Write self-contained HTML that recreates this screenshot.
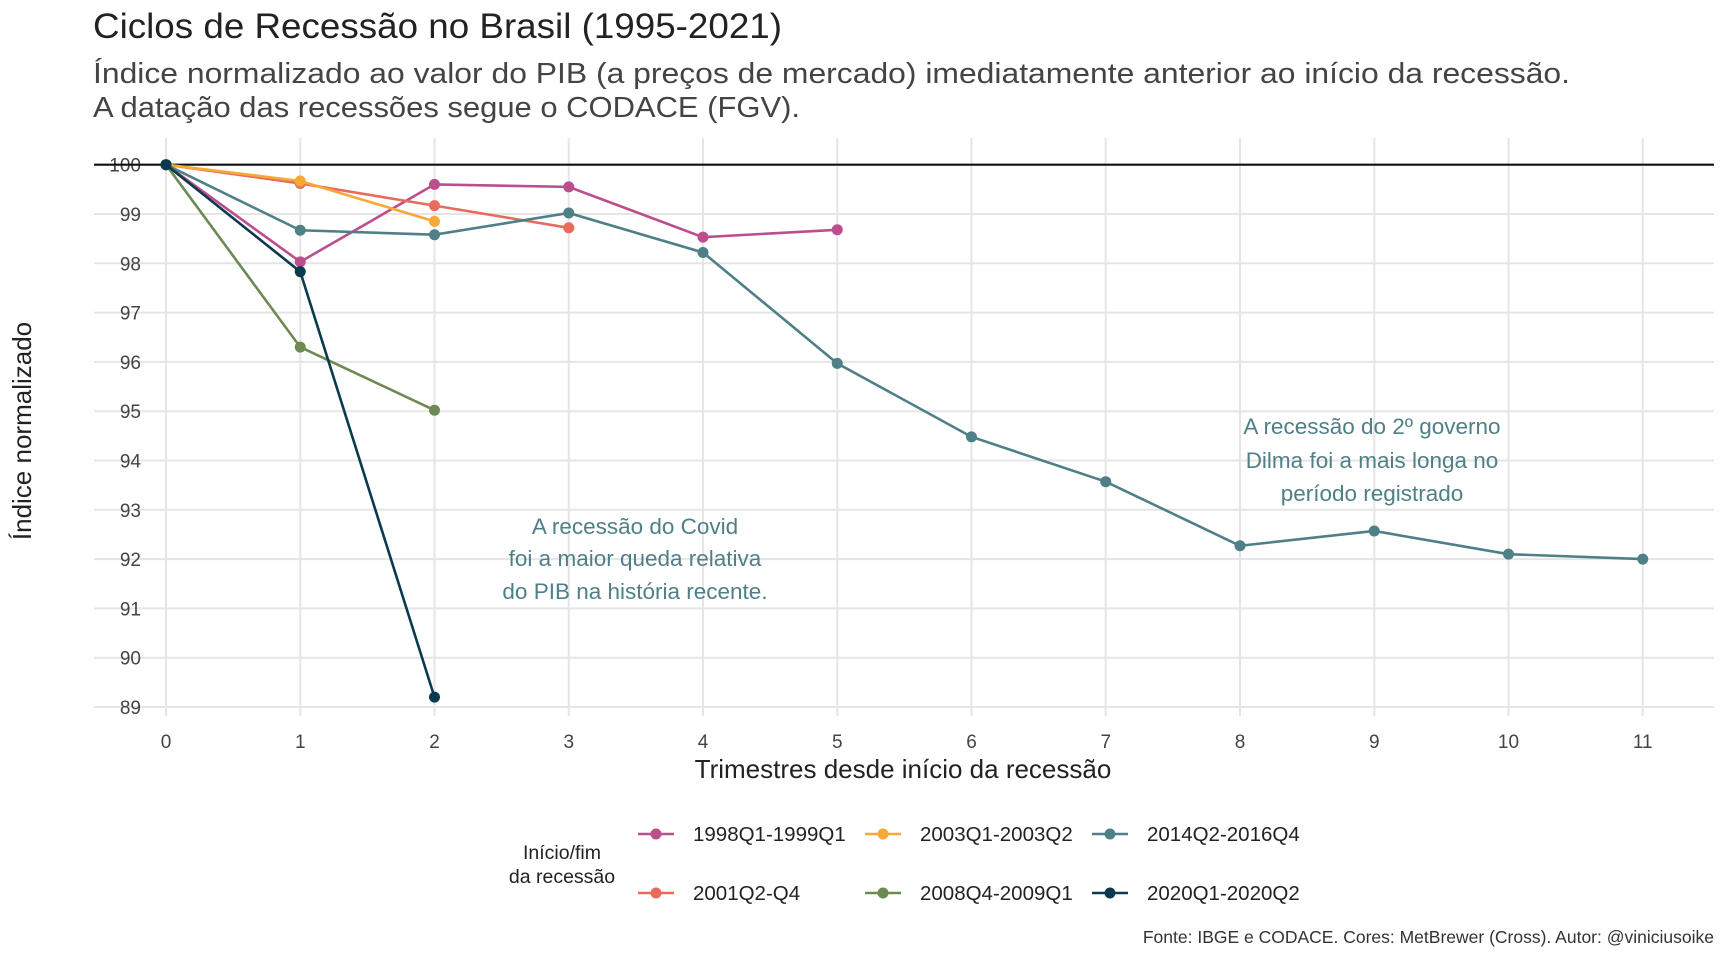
<!DOCTYPE html>
<html><head><meta charset="utf-8"><style>
body{margin:0;background:#fff;}
svg{display:block;font-family:"Liberation Sans",sans-serif;}
</style></head><body>
<svg id="chart" width="1728" height="960" viewBox="0 0 1728 960" xmlns="http://www.w3.org/2000/svg">
<rect width="1728" height="960" fill="#fff"/>
<text x="93" y="38" font-size="35" fill="#222" textLength="689" lengthAdjust="spacingAndGlyphs">Ciclos de Recessão no Brasil (1995-2021)</text>
<text x="93" y="83" font-size="29" fill="#444" textLength="1477" lengthAdjust="spacingAndGlyphs">Índice normalizado ao valor do PIB (a preços de mercado) imediatamente anterior ao início da recessão.</text>
<text x="93" y="117" font-size="29" fill="#444" textLength="707" lengthAdjust="spacingAndGlyphs">A datação das recessões segue o CODACE (FGV).</text>
<g id="grid"></g>
<g id="series"></g>
<text font-size="22.5" fill="#4f7f87" text-anchor="middle">
<tspan x="635" y="534">A recessão do Covid</tspan><tspan x="635" y="566">foi a maior queda relativa</tspan><tspan x="635" y="599">do PIB na história recente.</tspan></text>
<text font-size="22.5" fill="#4f7f87" text-anchor="middle">
<tspan x="1372" y="434">A recessão do 2º governo</tspan><tspan x="1372" y="468">Dilma foi a mais longa no</tspan><tspan x="1372" y="501">período registrado</tspan></text>
<text x="903" y="778" font-size="26" fill="#222" text-anchor="middle">Trimestres desde início da recessão</text>
<text transform="translate(31,431) rotate(-90)" font-size="26" fill="#222" text-anchor="middle">Índice normalizado</text>
<text font-size="19.5" fill="#222" text-anchor="middle"><tspan x="562" y="859">Início/fim</tspan><tspan x="562" y="883">da recessão</tspan></text>
<g id="legend"></g>
<text x="1714" y="943" font-size="17.5" fill="#333" text-anchor="end">Fonte: IBGE e CODACE. Cores: MetBrewer (Cross). Autor: @viniciusoike</text>
</svg>
<script>
const seriesNames=["1998Q1-1999Q1","2001Q2-Q4","2003Q1-2003Q2","2008Q4-2009Q1","2014Q2-2016Q4","2020Q1-2020Q2"];
const seriesColors=["#bc4e8e","#e86b5e","#f7a935","#6e8a54","#4f7f87","#0b3a4e"];
const s1998=[100,98.03,99.6,99.55,98.53,98.68];
const s2001=[100,99.62,99.17,98.72];
const s2003=[100,99.67,98.85];
const s2008=[100,96.3,95.02];
const s2014=[100,98.67,98.58,99.02,98.22,95.97,94.48,93.57,92.27,92.57,92.1,92.0];
const s2020=[100,97.83,89.2];
const xTicks=[0,1,2,3,4,5,6,7,8,9,10,11];
const yTicks=[89,90,91,92,93,94,95,96,97,98,99,100];
const allSeries=[s1998,s2001,s2003,s2008,s2014,s2020];
const NS="http://www.w3.org/2000/svg";
const X=t=>166+134.25*t;
const Y=v=>164.7+49.3*(100-v);
function mk(tag,attrs,parent){const e=document.createElementNS(NS,tag);for(const k in attrs)e.setAttribute(k,attrs[k]);parent.appendChild(e);return e;}
const grid=document.getElementById('grid');
yTicks.forEach(v=>{
 const l=mk('line',{x1:94,x2:1714,y1:Y(v),y2:Y(v),stroke:'#e5e5e5','stroke-width':2},grid);
 
 
 const t=mk('text',{x:141,y:Y(v)+7,'font-size':19,fill:'#444','text-anchor':'end'},grid);
 t.textContent=v;
 
 
});
xTicks.forEach(v=>{
 const l=mk('line',{x1:X(v),x2:X(v),y1:138,y2:716,stroke:'#e5e5e5','stroke-width':2},grid);
 
 
 const t=mk('text',{x:X(v),y:748,'font-size':19,fill:'#444','text-anchor':'middle'},grid);
 t.textContent=v;
 
 
});
const ref=mk('line',{x1:94,x2:1714,y1:Y(100),y2:Y(100),stroke:'#111','stroke-width':2.2},grid);


const sg=document.getElementById('series');
allSeries.forEach((s,i)=>{
 const g=mk('g',{},sg);
 
 
 const p=mk('polyline',{points:s.map((v,j)=>X(j)+','+Y(v)).join(' '),fill:'none',stroke:seriesColors[i],'stroke-width':2.6},g);
 
 
 s.forEach((v,j)=>{
  const c=mk('circle',{cx:X(j),cy:Y(v),r:5.5,fill:seriesColors[i]},g);
  
  
 });
});
const lg=document.getElementById('legend');
const colKey=[656,883,1110], colText=[693,920,1147], rowY=[834,893];
seriesNames.forEach((n,i)=>{
 const col=Math.floor(i/2), row=i%2;
 const g=mk('g',{},lg);
 
 
 mk('line',{x1:colKey[col]-18,x2:colKey[col]+18,y1:rowY[row],y2:rowY[row],stroke:seriesColors[i],'stroke-width':2.6},g);
 mk('circle',{cx:colKey[col],cy:rowY[row],r:5.5,fill:seriesColors[i]},g);
 const t=mk('text',{x:colText[col],y:rowY[row]+7,'font-size':20.5,fill:'#222'},g);
 t.textContent=n;
});
</script>
</body></html>
